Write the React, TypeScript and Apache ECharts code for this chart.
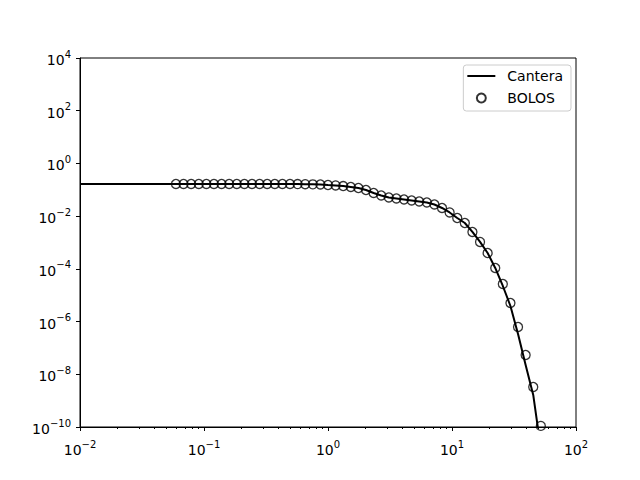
import React, { useEffect, useRef } from "react";
import * as echarts from "echarts";

const boloX = [
  0.0594, 0.0684, 0.0788, 0.0908, 0.1045, 0.1203, 0.1386, 0.1596, 0.1838, 0.2117,
  0.2438, 0.2807, 0.3233, 0.3723, 0.4287, 0.4937, 0.5686, 0.6548, 0.7541, 0.8684,
  1.0, 1.152, 1.326, 1.527, 1.759, 2.025, 2.333, 2.686, 3.093, 3.562,
  4.102, 4.724, 5.44, 6.265, 7.215, 8.309, 9.568, 11.02, 12.69, 14.61,
  16.83, 19.38, 22.32, 25.7, 29.6, 34.08, 39.25, 45.2, 52.05,
];
const boloY = [
  0.166, 0.166, 0.166, 0.166, 0.166, 0.166, 0.166, 0.166, 0.166, 0.166,
  0.166, 0.166, 0.166, 0.166, 0.166, 0.166, 0.165, 0.163, 0.161, 0.159,
  0.152, 0.146, 0.139, 0.128, 0.117, 0.0982, 0.0757, 0.0608, 0.0511, 0.0468,
  0.0429, 0.0393, 0.036, 0.033, 0.0277, 0.0204, 0.0138, 0.00851, 0.0055, 0.00251,
  0.00105, 4.0e-4, 1.08e-4, 2.67e-5, 5.08e-6, 6.24e-7, 5.41e-8, 3.3e-9, 1.1e-10,
];
const canteraX = [
  0.01, 0.0594, 0.0684, 0.0788, 0.0908, 0.1045, 0.1203, 0.1386, 0.1596, 0.1838, 0.2117,
  0.2438, 0.2807, 0.3233, 0.3723, 0.4287, 0.4937, 0.5686, 0.6548, 0.7541, 0.8684,
  1.0, 1.152, 1.326, 1.527, 1.759, 2.025, 2.333, 2.686, 3.093, 3.562,
  4.102, 4.724, 5.44, 6.265, 7.215, 8.309, 9.568, 11.02, 12.69, 14.61,
  16.83, 19.38, 22.32, 25.7, 29.6, 34.08, 39.25, 45.2, 52.05,
];
const canteraY = [
  0.166, 0.166, 0.166, 0.166, 0.166, 0.166, 0.166, 0.166, 0.166, 0.166, 0.166,
  0.166, 0.166, 0.166, 0.166, 0.166, 0.166, 0.165, 0.163, 0.161, 0.159,
  0.152, 0.146, 0.139, 0.128, 0.117, 0.0982, 0.0757, 0.0608, 0.0511, 0.0468,
  0.0429, 0.0393, 0.036, 0.033, 0.0277, 0.0204, 0.0138, 0.00851, 0.0055, 0.00251,
  0.00105, 4.0e-4, 1.08e-4, 2.24e-5, 3.9e-6, 3.39e-7, 2.26e-8, 1.64e-9, 1.5e-11,
];
const xMinorTicks = [
  0.02, 0.03, 0.04, 0.05, 0.06, 0.07, 0.08, 0.09,
  0.2, 0.3, 0.4, 0.5, 0.6, 0.7, 0.8, 0.9,
  2, 3, 4, 5, 6, 7, 8, 9,
  20, 30, 40, 50, 60, 70, 80, 90,
];

const FONT = "DejaVu Sans";

function powLabel(v: number) {
  const e = Math.round(Math.log10(v));
  const s = e < 0 ? "\u2212" + Math.abs(e) : String(e);
  return "{b|10}{s|" + s + "}";
}

const richLabel = {
  b: { fontSize: 14, fontFamily: FONT, color: "#000", lineHeight: 18, verticalAlign: "bottom" },
  s: { fontSize: 10, fontFamily: FONT, color: "#000", lineHeight: 18, verticalAlign: "top" },
};

export default function App() {
  const ref = useRef<HTMLDivElement>(null);
  useEffect(() => {
    if (!ref.current) return;
    const chart = echarts.init(ref.current, undefined, { renderer: "svg" });
    chart.setOption({
      animation: false,
      backgroundColor: "#fff",
      grid: {
        left: 80, right: 64, top: 58, bottom: 53,
        show: true, borderColor: "#000", borderWidth: 1, backgroundColor: "transparent",
      },
      legend: {
        right: 69, top: 65, orient: "vertical",
        data: [
          { name: "Cantera", icon: "path://M0,0 L28,0 L28,2 L0,2 Z" },
          { name: "BOLOS" },
        ],
        symbolKeepAspect: true,
        itemWidth: 28, itemHeight: 9, itemGap: 8,
        padding: [4, 8, 6, 4],
        backgroundColor: "#fff", borderColor: "#ccc", borderWidth: 1, borderRadius: 3,
        textStyle: { fontSize: 14, fontFamily: FONT, color: "#000", lineHeight: 14, padding: [0, 0, 0, 7] },
      },
      xAxis: [
        {
          type: "log", logBase: 10, min: 0.01, max: 100, interval: 1,
          position: "bottom",
          axisLine: { show: true, onZero: false, lineStyle: { color: "#000", width: 1 } },
          axisTick: { show: true, inside: false, length: 4, lineStyle: { color: "#000" } },
          axisLabel: { margin: 12, formatter: powLabel, rich: richLabel },
          splitLine: { show: false },
        },
        {
          type: "log", logBase: 10, min: 0.01, max: 100,
          position: "bottom",
          axisLine: { show: false },
          axisTick: { show: true, inside: false, length: 2, customValues: xMinorTicks, lineStyle: { color: "#000" } },
          axisLabel: { show: false },
          splitLine: { show: false },
        },
      ],
      yAxis: {
        type: "log", logBase: 10, min: 1e-10, max: 1e4, interval: 2,
        axisLine: { show: true, onZero: false, lineStyle: { color: "#000", width: 1 } },
        axisTick: { show: true, inside: false, length: 4, lineStyle: { color: "#000" } },
        axisLabel: { margin: 9, formatter: powLabel, rich: richLabel },
        splitLine: { show: false },
      },
      series: [
        {
          name: "Cantera", type: "line",
          data: canteraX.map((x, i) => [x, canteraY[i]]),
          symbol: "none", showSymbol: false,
          lineStyle: { color: "#000", width: 2 },
          itemStyle: { color: "#000" },
          clip: true,
        },
        {
          name: "BOLOS", type: "scatter",
          data: boloX.map((x, i) => [x, boloY[i]]),
          symbol: "circle", symbolSize: 9,
          itemStyle: { color: "rgba(255,255,255,0)", borderColor: "#000", borderWidth: 1.3 },
          clip: false,
          z: 3,
        },
      ],
    });
    return () => chart.dispose();
  }, []);
  return <div ref={ref} style={{ width: 640, height: 480, position: "absolute", left: 0, top: 0 }} />;
}
